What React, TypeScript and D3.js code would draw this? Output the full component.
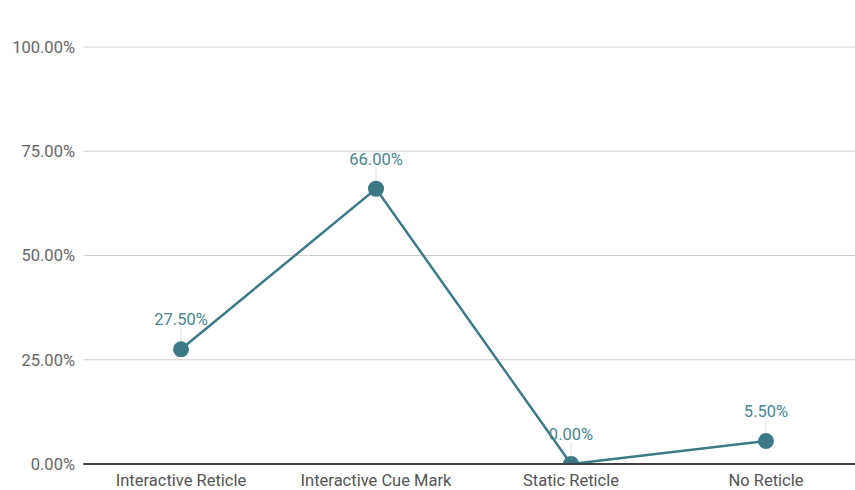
import React from "react";
import * as d3 from "d3";

const categories = ["Interactive Reticle", "Interactive Cue Mark", "Static Reticle", "No Reticle"];
const values = [27.5, 66.0, 0.0, 5.5];
const yTicks = [0, 25, 50, 75, 100];

const W = 855;
const H = 490;
const left = 83.5;
const right = 863.5;
const top = 47;
const bottom = 464;
const teal = "#3e7a85";
const fs = 16.5;

export default function App() {
  const x = d3.scaleBand<string>().domain(categories).range([left, right]);
  const y = d3.scaleLinear().domain([0, 100]).range([bottom, top]);
  const cx = (c: string) => (x(c) as number) + x.bandwidth() / 2;
  const line = d3
    .line<number>()
    .x((_, i) => cx(categories[i]))
    .y((v) => y(v));
  const fmt = (v: number) => v.toFixed(2) + "%";

  return (
    <svg width={W} height={H} style={{ position: "absolute", left: 0, top: 0, background: "#fff" }}
      fontFamily="Roboto, 'Noto Sans', sans-serif">
      <defs>
        <clipPath id="plot">
          <rect x={0} y={0} width={W} height={bottom} />
        </clipPath>
      </defs>
      <rect width={W} height={H} fill="#fff" />
      {yTicks.map((t) => (
        <g key={t}>
          <line x1={left} x2={right} y1={y(t)} y2={y(t)} stroke={t === 0 ? "#333" : "#cfcfcf"} strokeWidth={t === 0 ? 1.5 : 1.2} />
          <text x={75} y={y(t)} dy="0.35em" textAnchor="end" fontSize={fs} fill="#666">
            {fmt(t)}
          </text>
        </g>
      ))}
      {categories.map((c) => (
        <text key={c} x={cx(c)} y={480} dy="0.35em" textAnchor="middle" fontSize={fs} fill="#555">
          {c}
        </text>
      ))}
      <g clipPath="url(#plot)">
        {values.map((v, i) => (
          <line key={"l" + i} x1={cx(categories[i])} x2={cx(categories[i])} y1={y(v) - 22} y2={y(v)} stroke="#d8e3e5" strokeWidth={1} />
        ))}
        <path d={line(values) || ""} fill="none" stroke={teal} strokeWidth={2.5} />
        {values.map((v, i) => (
          <circle key={"c" + i} cx={cx(categories[i])} cy={y(v)} r={8} fill={teal} />
        ))}
      </g>
      <line x1={left} x2={right} y1={bottom} y2={bottom} stroke="#333" strokeWidth={1.5} />
      {values.map((v, i) => (
        <text key={"t" + i} x={cx(categories[i])} y={y(v) - 30} dy="0.35em" textAnchor="middle" fontSize={fs} fill="#4a8590">
          {fmt(v)}
        </text>
      ))}
    </svg>
  );
}
